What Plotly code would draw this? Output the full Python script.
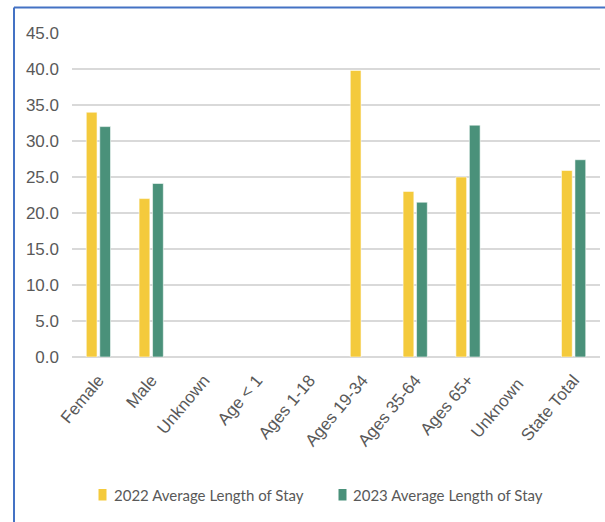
import plotly.graph_objects as go

categories = ["Female", "Male", "Unknown", "Age < 1", "Ages 1-18", "Ages 19-34",
              "Ages 35-64", "Ages 65+", "Unknown ", "State Total"]
values_2022 = [34.0, 22.0, None, None, None, 39.8, 23.0, 25.0, None, 25.9]
values_2023 = [32.0, 24.1, None, None, None, None, 21.5, 32.2, None, 27.4]
series_names = ["2022 Average Length of Stay", "2023 Average Length of Stay"]
colors = ["#F4CA3C", "#4A917A"]
y_ticks = [0, 5, 10, 15, 20, 25, 30, 35, 40, 45]

fig = go.Figure()
for name, vals, col in zip(series_names, [values_2022, values_2023], colors):
    fig.add_trace(go.Bar(
        x=categories, y=vals, name=name, showlegend=False,
        marker=dict(color=col, line=dict(color="rgba(255,255,255,0.7)", width=0.8)),
    ))

W, H = 605, 522
L, R, T, B = 72, 5, 33, 165
pw = W - L - R
ph = H - T - B

fig.update_layout(
    width=W, height=H,
    margin=dict(l=L, r=R, t=T, b=B),
    paper_bgcolor="white", plot_bgcolor="white",
    barmode="group", bargap=0.49, bargroupgap=0.2,
    font=dict(family="Liberation Sans, Arial, sans-serif", color="#595959", size=16),
    xaxis=dict(tickangle=-50, showgrid=False, showline=False, ticks="",
               ticklabelstandoff=9, tickfont=dict(size=17, color="#595959")),
    yaxis=dict(range=[0, 45], tickvals=y_ticks, ticktext=[f"{v:.1f}" for v in y_ticks],
               showgrid=True, gridcolor="#D9D9D9", gridwidth=2, zeroline=True,
               zerolinecolor="#D9D9D9", zerolinewidth=2, ticks="", ticklabelstandoff=12,
               tickfont=dict(size=17, color="#595959")),
    showlegend=False,
)

def px_x(p):
    return (p - L) / pw
def px_y(p):
    return (H - B - p) / ph

# chart frame (blue border)
fig.add_shape(type="line", xref="paper", yref="paper",
              x0=px_x(14), x1=px_x(14), y0=px_y(7.5), y1=px_y(530),
              line=dict(color="#4472C4", width=2))
fig.add_shape(type="line", xref="paper", yref="paper",
              x0=px_x(14), x1=px_x(610), y0=px_y(7.5), y1=px_y(7.5),
              line=dict(color="#4472C4", width=2))

# custom legend
legend_items = [(98.5, 112), (338.5, 351)]
for (sx, tx), name, col in zip(legend_items, series_names, colors):
    fig.add_shape(type="rect", xref="paper", yref="paper",
                  x0=px_x(sx), x1=px_x(sx + 8), y0=px_y(489), y1=px_y(500.5),
                  fillcolor=col, line=dict(width=0))
    fig.add_annotation(xref="paper", yref="paper", x=px_x(tx), y=px_y(495),
                       xanchor="left", yanchor="middle", showarrow=False, text=name,
                       font=dict(family="Lato, Liberation Sans, sans-serif", size=15, color="#595959"))

fig.write_html("out.html", config={"displayModeBar": False},
               post_script="document.body.style.margin='0';")
